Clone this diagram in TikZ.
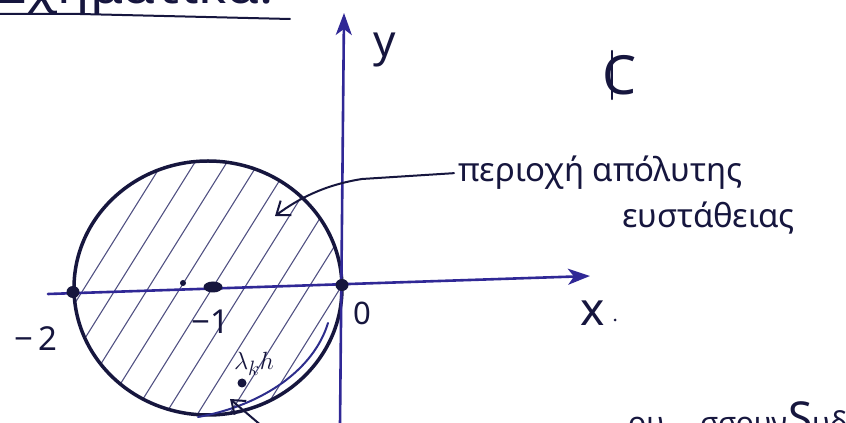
\documentclass[tikz,border=0pt]{standalone}
\usepackage{fontspec}
\setmainfont{Noto Sans}
\usetikzlibrary{arrows.meta,shapes.geometric}
\definecolor{ink}{RGB}{22,22,62}
\definecolor{axisblue}{RGB}{48,40,150}
\definecolor{hatchc}{RGB}{80,80,130}
\definecolor{penblue}{RGB}{45,45,140}
\tikzset{
  circ/.style={draw=ink, line width=3.5pt},
  axisline/.style={draw=axisblue, line width=2.6pt},
  hatchline/.style={draw=hatchc, line width=1.1pt},
  lab/.style={text=ink, inner sep=0pt, font=\fontsize{33}{35}\selectfont},
  dotmark/.style={fill=ink, ellipse, inner sep=0pt, minimum width=13pt, minimum height=12pt},
  pen/.style={draw=ink, line width=2pt},
  tipaxis/.style={-{Stealth[length=22pt,width=16pt,inset=6pt]}},
  tipbarb/.style={-{Straight Barb[length=12pt,width=18pt]}},
}
\begin{document}
\begin{tikzpicture}[x=1pt,y=1pt,line cap=round,line join=round]
\useasboundingbox (0,0) rectangle (846,423);
\fill[white] (0,0) rectangle (846,423);
\begin{scope}
\clip (0,0) rectangle (846,423);
% hatching
\begin{scope}
  \clip (208,135) ellipse [x radius=134, y radius=127];
  \foreach \a in {-160,-128,...,360} {
    \draw[hatchline] (\a,0) -- ++(170,272);
  }
\end{scope}
% circle of absolute stability
\draw[circ] (208,135) ellipse [x radius=134, y radius=127];
% inner stroke near lower boundary
\draw[draw=penblue, line width=2pt] (328,100) .. controls (314,54) and (264,18) .. (198,6);
% axes
\coordinate (xs) at (48,129);
\coordinate (xe) at (590,147);
\coordinate (ys) at (340,-2);
\coordinate (ye) at (344,410);
\draw[axisline,tipaxis] (xs) -- (xe);
\draw[axisline,tipaxis] (ys) -- (ye);
% points
\node[dotmark] (pm2) at (73,131) {};
\node[dotmark, minimum width=19pt, minimum height=11pt] (pm1) at (213,136) {};
\node[dotmark] (p0) at (342,138) {};
\node[fill=ink, circle, inner sep=0pt, minimum size=6pt] (psm) at (183,140) {};
% axis labels
\node[lab, font=\fontsize{44}{44}\selectfont] (ylab) at (385,373) {y};
\node[lab, font=\fontsize{46}{46}\selectfont] (xlab) at (593,110) {x};
\node[fill=ink, circle, inner sep=0pt, minimum size=3pt] (xdot) at (615,103) {};
\node[lab, font=\fontsize{31}{31}\selectfont] (l0) at (362,110) {0};
\node[lab, font=\fontsize{33}{33}\selectfont] (l1) at (210,101) {−1};
\node[lab, font=\fontsize{33}{33}\selectfont] (l2) at (36,84) {−\,2};
% complex plane symbol: C with a vertical stroke
\node[lab, font=\fontsize{54}{54}\selectfont] (CC) at (620,348) {C};
\draw[pen, line width=2.4pt] ([xshift=-8pt,yshift=4pt]CC.north) -- ([xshift=-8pt,yshift=-4pt]CC.south);
% region text + arrow
\node[lab, anchor=base west] (reg1) at (458,241) {περιοχή απόλυτης};
\node[lab, anchor=base west] (reg2) at (622,195) {ευστάθειας};
\coordinate (atip) at (275,207);
\draw[pen, tipbarb] ([xshift=-4pt]reg1.west) -- (362,244) .. controls (324,238) and (298,224) .. (atip);
% lambda_k h
\node[fill=ink, circle, inner sep=0pt, minimum size=9pt] (lamp) at (242,40) {};
\node[text=ink, inner sep=0pt, font=\fontsize{30}{30}\selectfont] (laml) at (254,59) {$\lambda_k h$};
\coordinate (lend) at (263,-4);
\coordinate (ltip) at (230,24);
\draw[pen, tipbarb] (lend) -- (ltip);
% clipped title and bottom text (cut by the picture's edge, as in the source)
\node[lab, anchor=base west, font=\fontsize{46}{46}\selectfont, xscale=1.15] (title) at (-4,419) {Σχηματικά:};
\draw[pen] (0,409) -- (80,409) -- (290,404);
\node[lab, anchor=base west, font=\fontsize{30}{30}\selectfont] (bw1) at (628,-10) {ου};
\node[lab, anchor=base west, font=\fontsize{30}{30}\selectfont] (bw2) at (700,-10) {σσουν};
\node[lab, anchor=base west, font=\fontsize{44}{44}\selectfont] (bw3) at (788,-10) {S};
\node[lab, anchor=base west, font=\fontsize{30}{30}\selectfont] (bw4) at (812,-10) {υδ};
\end{scope}
\end{tikzpicture}
\end{document}
